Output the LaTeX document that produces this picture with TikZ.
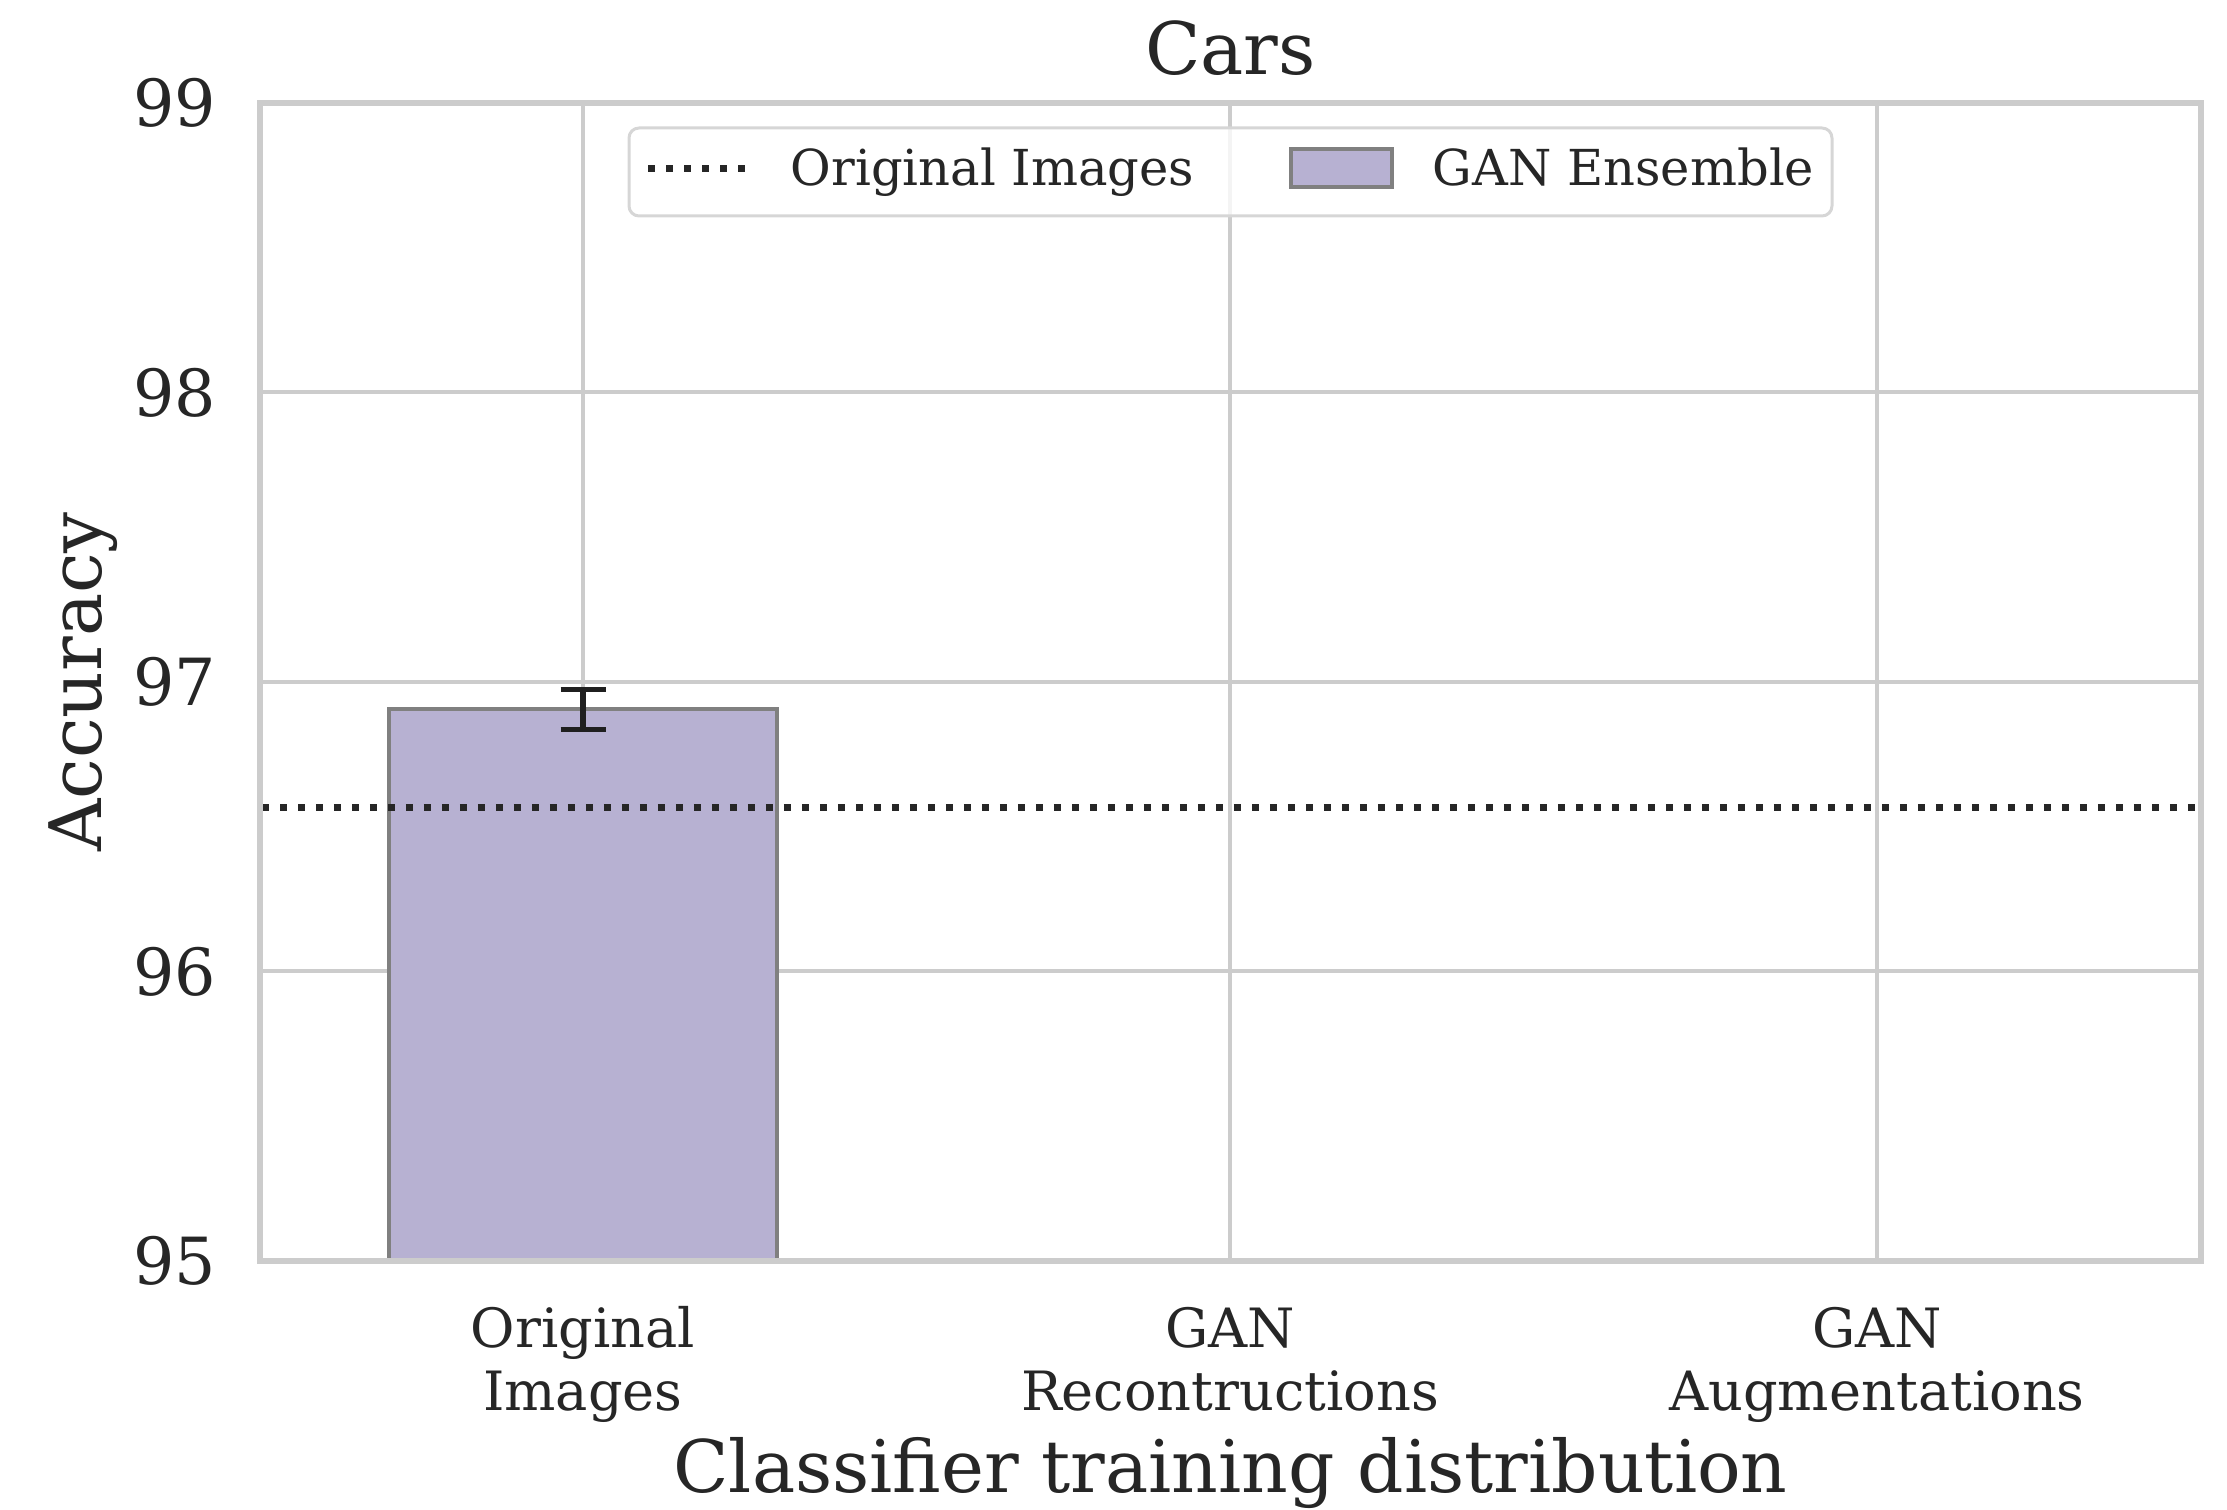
\documentclass[tikz,border=0pt]{standalone}
\usepackage{fontspec}
\setmainfont{DejaVu Serif}
\definecolor{gridc}{HTML}{CCCCCC}
\definecolor{txt}{HTML}{262626}
\definecolor{barfill}{HTML}{B7B1D2}
\definecolor{baredge}{HTML}{808080}
\definecolor{errc}{HTML}{1F1F1F}
\definecolor{legedge}{HTML}{D6D6D6}
\begin{document}
\begin{tikzpicture}[x=0.24pt,y=-0.24pt,
  gridline/.style={draw=gridc,line width=0.96pt},
  spine/.style={draw=gridc,line width=1.44pt,line cap=rect},
  barbox/.style={fill=barfill,draw=baredge,line width=0.96pt},
  errline/.style={draw=errc,line width=1.5pt},
  errcap/.style={draw=errc,line width=1.2pt},
  dotline/.style={draw=txt,line width=1.6pt,dash pattern=on 1.6pt off 2.72pt},
  legbox/.style={draw=legedge,line width=0.72pt,rounded corners=2.4pt,fill=white,fill opacity=0.8,text opacity=1},
  ytick/.style={text=txt,inner sep=0pt,anchor=east,font=\fontsize{15.6}{19}\selectfont},
  xtick/.style={text=txt,inner sep=0pt,anchor=north,align=center,font=\fontsize{13}{14.9}\selectfont},
  legtext/.style={text=txt,inner sep=0pt,anchor=base west,font=\fontsize{11.9}{14}\selectfont},
  axlabel/.style={text=txt,inner sep=0pt,anchor=base,font=\fontsize{17.4}{21}\selectfont},
  ttl/.style={text=txt,inner sep=0pt,anchor=base,font=\fontsize{17.4}{20}\selectfont}
]
\useasboundingbox (0,0) rectangle (2227,1510);
% axes corners
\coordinate (tl) at (260,103);
\coordinate (tr) at (2201,103);
\coordinate (bl) at (260,1261);
\coordinate (br) at (2201,1261);
% grid
\foreach \v in {96,97,98} {
  \draw[gridline] (260,{1261-(\v-95)*289.5}) -- (2201,{1261-(\v-95)*289.5});
}
\foreach \c in {583,1230,1877} {
  \draw[gridline] (\c,103) -- (\c,1261);
}
% bar
\coordinate (barbl) at (389,1261);
\coordinate (bartr) at (777,{1261-(96.907-95)*289.5});
\draw[barbox] (barbl) rectangle (bartr);
% error bar
\coordinate (errtop) at (583,{1261-(96.975-95)*289.5});
\coordinate (errbot) at (583,{1261-(96.837-95)*289.5});
\draw[errline] (errtop) -- (errbot);
\draw[errcap] ([xshift=-5.4pt]errtop) -- ([xshift=5.4pt]errtop);
\draw[errcap] ([xshift=-5.4pt]errbot) -- ([xshift=5.4pt]errbot);
% reference dotted line
\coordinate (refL) at (262,807.3);
\coordinate (refR) at (2201,807.3);
\draw[dotline] (refL) -- (refR);
% spines
\draw[spine] (tl) rectangle (br);
% y tick labels
\node[ytick] (y99) at (217,103) {99};
\node[ytick] (y98) at (217,392.5) {98};
\node[ytick] (y97) at (217,682) {97};
\node[ytick] (y96) at (217,971.5) {96};
\node[ytick] (y95) at (217,1261) {95};
% x tick labels
\node[xtick] (x0) at (583,1306) {\vphantom{l}Original\\Images};
\node[xtick] (x1) at (1230,1306) {\vphantom{l}GAN\\Recontructions};
\node[xtick] (x2) at (1877,1306) {\vphantom{l}GAN\\Augmentations};
% axis labels and title
\node[axlabel] (xlab) at (1230.5,1493) {Classifier training distribution};
\node[axlabel,rotate=90] (ylab) at (102,682) {Accuracy};
\node[ttl] (title) at (1230.5,75) {Cars};
% legend
\path[legbox] (629,128) rectangle (1832,216);
\coordinate (legdotL) at (648,168.5);
\coordinate (legdotR) at (748,168.5);
\draw[dotline] (legdotL) -- (legdotR);
\node[legtext] (leg1) at (790,186) {Original Images};
\draw[barbox] (1291,149) rectangle (1392,187);
\node[legtext] (leg2) at (1432,186) {GAN Ensemble};
\end{tikzpicture}
\end{document}
